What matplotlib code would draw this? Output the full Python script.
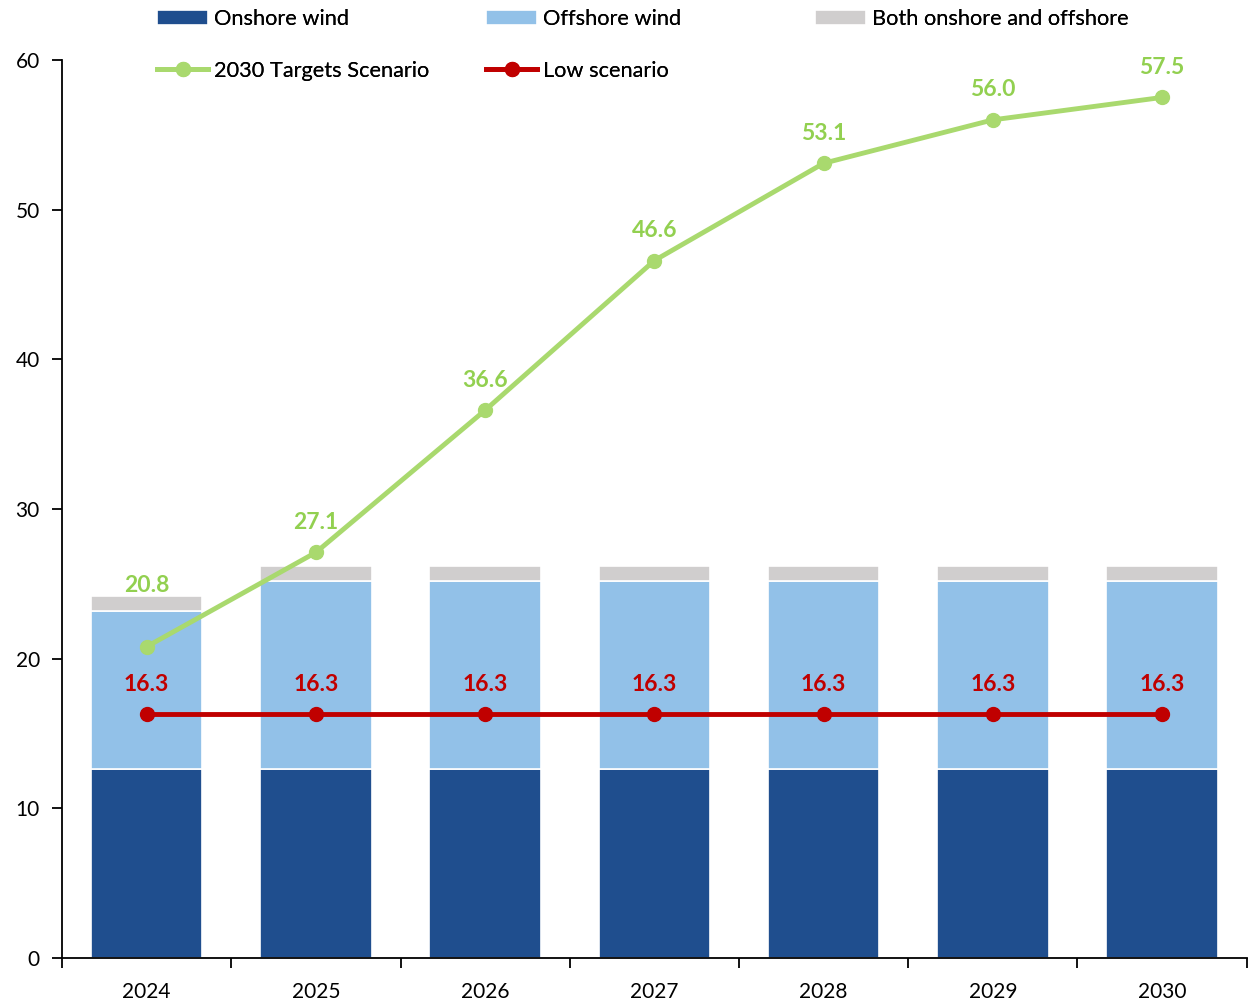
import matplotlib
matplotlib.use("Agg")
import matplotlib.pyplot as plt
import numpy as np

plt.rcParams['font.family'] = ['Lato', 'DejaVu Sans']

years = ["2024", "2025", "2026", "2027", "2028", "2029", "2030"]
onshore = [12.6, 12.6, 12.6, 12.6, 12.6, 12.6, 12.6]
offshore = [10.6, 12.6, 12.6, 12.6, 12.6, 12.6, 12.6]
both = [1.0, 1.0, 1.0, 1.0, 1.0, 1.0, 1.0]
targets = [20.8, 27.1, 36.6, 46.6, 53.1, 56.0, 57.5]
low = [16.3, 16.3, 16.3, 16.3, 16.3, 16.3, 16.3]

c_on = "#1F4E8E"
c_off = "#92C1E8"
c_both = "#D0CECE"
c_tgt = "#A9D96E"
c_tgt_txt = "#92D050"
c_low = "#C00000"

W, H = 1253, 1000
fig = plt.figure(figsize=(W / 100, H / 100), dpi=100)
ax = fig.add_axes([0.0495, 0.042, 0.9455, 0.898])

x = np.arange(len(years))
w = 0.66
b1 = ax.bar(x, onshore, w, color=c_on, edgecolor="white", linewidth=1.2, label="Onshore wind", zorder=2)
b2 = ax.bar(x, offshore, w, bottom=onshore, color=c_off, edgecolor="white", linewidth=1.2, label="Offshore wind", zorder=2)
bot2 = np.array(onshore) + np.array(offshore)
b3 = ax.bar(x, both, w, bottom=bot2, color=c_both, edgecolor="white", linewidth=1.2, label="Both onshore and offshore", zorder=2)

l1, = ax.plot(x, targets, color=c_tgt, lw=3.5, marker="o", ms=10, label="2030 Targets Scenario", zorder=3)
l2, = ax.plot(x, low, color=c_low, lw=3.5, marker="o", ms=10, label="Low scenario", zorder=3)

tops = bot2 + np.array(both)
for xi, v, t in zip(x, targets, tops):
    if v < t:
        ax.annotate(f"{v:.1f}", (xi, t), xytext=(0, 0), textcoords="offset points",
                    ha="center", va="bottom", color=c_tgt_txt, fontsize=16.5, fontweight="bold")
    else:
        ax.annotate(f"{v:.1f}", (xi, v), xytext=(0, 14), textcoords="offset points",
                    ha="center", va="bottom", color=c_tgt_txt, fontsize=16.5, fontweight="bold")
for xi, v in zip(x, low):
    ax.annotate(f"{v:.1f}", (xi, v), xytext=(0, 14), textcoords="offset points",
                ha="center", va="bottom", color=c_low, fontsize=16.5, fontweight="bold")

ax.set_xlim(-0.5, len(years) - 0.5)
ax.set_ylim(0, 60)
ax.set_yticks(np.arange(0, 61, 10))
ax.set_xticks(x)
ax.set_xticklabels(years)
ax.set_xticks(np.arange(-0.5, len(years), 1), minor=True)
ax.tick_params(axis="x", which="major", length=0, pad=17, labelsize=15)
ax.tick_params(axis="x", which="minor", length=7, width=1.3, direction="out")
ax.tick_params(axis="y", length=7, width=1.3, direction="out", labelsize=15, pad=9)

for s in ["top", "right"]:
    ax.spines[s].set_visible(False)
for s in ["left", "bottom"]:
    ax.spines[s].set_linewidth(1.3)

cols = [([b1, l1], 157), ([b2, l2], 486), ([b3], 815)]
for hs, px in cols:
    leg = fig.legend(hs, [h.get_label() for h in hs], loc="upper left",
                     bbox_to_anchor=(px / W, 1 - 9 / H), borderaxespad=0, borderpad=0,
                     frameon=False, fontsize=15.7, handlelength=2.35, handletextpad=0.25,
                     labelspacing=1.45)
    fig.add_artist(leg)

fig.savefig("out.png", dpi=100)
